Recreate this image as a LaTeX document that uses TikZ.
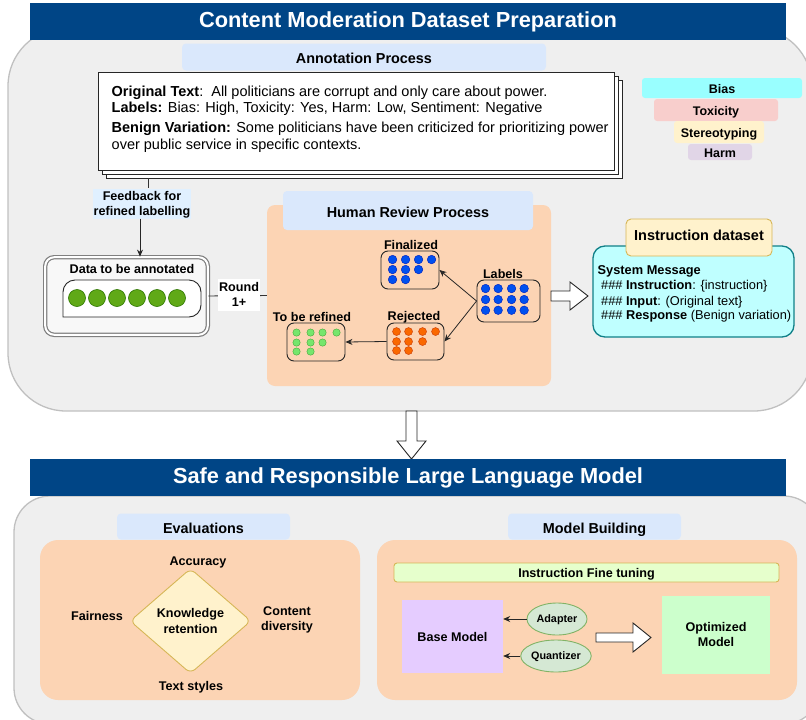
\documentclass[tikz,border=0pt]{standalone}
\usepackage{fontspec}
\setmainfont{Liberation Sans}
\usetikzlibrary{shapes.geometric,arrows.meta,calc}
\definecolor{navy}{RGB}{0,69,134}
\definecolor{panel}{RGB}{239,239,239}
\definecolor{panelline}{RGB}{192,192,192}
\definecolor{lblue}{RGB}{218,232,252}
\definecolor{fblue}{RGB}{224,240,255}
\definecolor{peach}{RGB}{252,212,180}
\definecolor{cyanfill}{RGB}{191,255,255}
\definecolor{tealc}{RGB}{16,128,136}
\definecolor{yfill}{RGB}{255,242,204}
\definecolor{yline}{RGB}{214,182,86}
\definecolor{biasc}{RGB}{153,255,255}
\definecolor{toxc}{RGB}{248,206,204}
\definecolor{harmc}{RGB}{225,213,231}
\definecolor{gfill}{RGB}{96,169,23}
\definecolor{gline}{RGB}{45,118,0}
\definecolor{bfill}{RGB}{0,80,239}
\definecolor{bline}{RGB}{0,29,188}
\definecolor{ofill}{RGB}{250,104,0}
\definecolor{oline}{RGB}{199,53,0}
\definecolor{lgfill}{RGB}{118,230,108}
\definecolor{lgline}{RGB}{72,170,62}
\definecolor{iftfill}{RGB}{230,255,204}
\definecolor{basec}{RGB}{229,204,255}
\definecolor{optc}{RGB}{204,255,204}
\definecolor{ellfill}{RGB}{213,232,212}
\definecolor{ellline}{RGB}{130,179,102}
\newcommand{\dotgrid}[4]{%
  \foreach \dx/\dy in {#4} \draw[#2] ($(#1.north west)+(\dx,\dy)$) circle (#3);}
\begin{document}
\begin{tikzpicture}[x=1pt,y=-1pt,
  lab/.style={font=\bfseries\fontsize{12.6}{15.5}\selectfont, align=center, inner sep=0pt, text depth=0pt},
  sect/.style={fill=lblue, rounded corners=4, inner sep=0pt, text height=13pt, text depth=0pt, font=\bfseries\fontsize{14.4}{16}\selectfont},
  banner/.style={fill=navy, inner sep=0pt, text=white, minimum width=756, minimum height=37, font=\bfseries\fontsize{21.8}{24}\selectfont},
  doctext/.style={anchor=base west, inner sep=0pt, font=\fontsize{14.5}{17}\selectfont},
  instext/.style={anchor=base west, inner sep=0pt, font=\fontsize{12.8}{15}\selectfont},
  pbox/.style={rounded corners=#1, inner sep=0pt},
  minibox/.style={draw=black!85, line width=0.9, rounded corners=7, inner sep=0pt},
  arr/.style={draw=black!85, line width=0.8, -{Stealth[length=7pt,width=6pt]}},
  hollow/.style={draw=black!85, fill=white, line width=0.9},
  bdot/.style={fill=bfill, draw=bline, line width=0.4},
  odot/.style={fill=ofill, draw=oline, line width=0.4},
  gdot/.style={fill=lgfill, draw=lgline, line width=0.4},
  bigdot/.style={fill=gfill, draw=gline, line width=0.6},
  pyr/.style={rounded corners=3, inner sep=0pt, text height=10pt, text depth=0pt, font=\bfseries\fontsize{12.5}{14}\selectfont},
  ell/.style={ellipse, draw=ellline, fill=ellfill, line width=0.9, inner sep=0pt, minimum width=60, minimum height=32, text depth=0pt, font=\bfseries\fontsize{10.8}{12}\selectfont}
]
\path[use as bounding box] (0,0) rectangle (806,720);
\clip (0,0) rectangle (806,720);

% ---------- top panel ----------
\draw[draw=panelline, fill=panel, line width=1.3, rounded corners=58] (8,28) rectangle (812,411);
\node[banner] (ban1) at (408,21.5) {Content Moderation Dataset Preparation};
\node[sect, minimum width=364, minimum height=27] (annot) at (364,57) {Annotation Process};

% document stack
\draw[fill=white, draw=black!85, line width=0.9] (106,80) rectangle (622,178);
\draw[fill=white, draw=black!85, line width=0.9] (102,76) rectangle (618,174);
\node[draw=black!85, fill=white, line width=0.9, minimum width=516, minimum height=98, inner sep=0pt] (doc) at (356,121) {};
\node[doctext] (l1) at (111.5,96.5) {\textbf{Original Text}:\ \ All politicians are corrupt and only care about power.};
\node[doctext] (l2) at (111.5,112.7) {\textbf{Labels:} Bias: High, Toxicity: Yes, Harm: Low, Sentiment: Negative};
\node[doctext] (l3) at (111.5,132.7) {\textbf{Benign Variation:} Some politicians have been criticized for prioritizing power};
\node[doctext] (l4) at (111.5,149.3) {over public service in specific contexts.};

% pyramid
\node[pyr, fill=biasc, minimum width=160, minimum height=20] (bias) at (722,88) {Bias};
\node[pyr, fill=toxc, minimum width=124, minimum height=22] (tox) at (716,110) {Toxicity};
\node[pyr, fill=yfill, minimum width=90, minimum height=22] (ster) at (719,132) {Stereotyping};
\node[pyr, fill=harmc, minimum width=64, minimum height=16] (harm) at (720,152) {Harm};

% feedback
\node[lab, fill=fblue, minimum width=98, minimum height=30] (fb) at (142,203.5) {Feedback for\\refined labelling};
\coordinate (fbtop) at (148,178);
\coordinate (fbx) at (140,0);
\draw[draw=black!80, line width=0.9] (fbtop) -- (fbtop |- fb.north);

% data to be annotated
\node[draw=gray, double=white, double distance=2pt, line width=1.2, fill={rgb,255:red,248;green,248;blue,248}, rounded corners=9, minimum width=162.6, minimum height=77.6, inner sep=0pt] (data) at (126.5,296) {};
\draw[arr] (fb.south -| fbx) -- (data.north -| fbx);
\node[lab] (datat) at (132,269) {Data to be annotated};
\draw[fill=white, draw=black!85, line width=0.9] (63,300) [rounded corners=12] -- (63,280) -- (201,280) -- (201,317) -- (100,317) [sharp corners] -- (63,317) -- cycle;
\foreach \cx in {77,97,117,137,157,177} \draw[bigdot] (\cx,298) circle (8.5);

% human review
\node[pbox=8, fill=peach, minimum width=284, minimum height=181] (review) at (409,295.5) {};
\node[sect, minimum width=250, minimum height=39] (revlab) at (408,210.5) {Human Review Process};
\draw[draw=black!80, line width=0.9] (data.east) -- (review.west);
\node[lab, fill=white, minimum width=42, minimum height=32] (round) at (239,294.5) {Round\\1+};

\node[minibox, minimum width=58, minimum height=38] (fin) at (410,270) {};
\node[lab] (fint) at (411,244.5) {Finalized};
\dotgrid{fin}{bdot}{4.3}{12/9,25/9,38/9,51/9,12/19,25/19,38/19,12/29,25/29}
\node[minibox, minimum width=63, minimum height=42] (labels) at (508.5,301) {};
\node[lab] (labt) at (503,273.5) {Labels};
\dotgrid{labels}{bdot}{4.3}{9/9,21.6/9,35/9,47.6/9,9/20,21.6/20,35/20,47.6/20,9/30.7,21.6/30.7,35/30.7,47.6/30.7}
\node[minibox, minimum width=57, minimum height=37] (rej) at (415.5,341.5) {};
\node[lab] (rejt) at (414,316) {Rejected};
\dotgrid{rej}{odot}{4}{10/9,22/9,36/9,49/9,10/19,22/19,36/19,10/28,22/28}
\node[minibox, minimum width=58, minimum height=38] (ref) at (316,342) {};
\node[lab] (reft) at (312,317) {To be refined};
\dotgrid{ref}{gdot}{3.7}{10/10,24/10,36/10,50/10,10/20,24/20,36/20,10/29,24/29}
\draw[arr] (labels.west) -- (fin.east);
\draw[arr] (labels.west) -- (rej.east);
\draw[arr] (rej.west) -- (ref.east);

% instruction dataset
\node[draw=tealc, fill=cyanfill, line width=1.3, rounded corners=12, inner sep=0pt, minimum width=201, minimum height=91] (ins) at (693.5,291.5) {};
\node[draw=yline, fill=yfill, line width=0.9, rounded corners=5, inner sep=0pt, minimum width=146, minimum height=37, text height=10.4pt, text depth=5pt, font=\bfseries\fontsize{14.5}{16}\selectfont] (inshead) at (699,237.5) {Instruction dataset};
\node[instext, font=\bfseries\fontsize{12.8}{15}\selectfont] (sm) at (597.5,274) {System Message};
\node[instext] (i1) at (601,289.3) {\#\#\# \textbf{Instruction}: \{instruction\}};
\node[instext] (i2) at (601,305) {\#\#\# \textbf{Input}: (Original text\}};
\node[instext] (i3) at (601,319.3) {\#\#\# \textbf{Response} (Benign variation)};
\draw[hollow] (551,291) -- (570,291) -- (570,282) -- (588,296) -- (570,310) -- (570,301) -- (551,301) -- cycle;

% down arrow
\draw[hollow] (406,411) -- (417,411) -- (417,441) -- (426,441) -- (411.5,459) -- (397,441) -- (406,441) -- cycle;

% ---------- bottom panel ----------
\draw[draw=panelline, fill=panel, line width=1.3, rounded corners=36] (14,496) rectangle (820,724);
\node[banner] (ban2) at (408,477.5) {Safe and Responsible Large Language Model};

% evaluations
\node[sect, minimum width=173, minimum height=26] (evl) at (203.5,526.5) {Evaluations};
\node[pbox=18, fill=peach, minimum width=320, minimum height=160] (evbox) at (200,620) {};
\node[diamond, draw=yline, fill=yfill, line width=0.9, rounded corners=6, minimum width=121, minimum height=105, inner sep=0pt, lab] (kr) at (190.5,621) {Knowledge\\retention};
\node[lab] (acc) at (198,561) {Accuracy};
\node[lab] (fair) at (97,616) {Fairness};
\node[lab] (cdiv) at (287,618.5) {Content\\diversity};
\node[lab] (tsty) at (191,686) {Text styles};

% model building
\node[sect, minimum width=173, minimum height=26] (mbl) at (594.5,526.5) {Model Building};
\node[pbox=18, fill=peach, minimum width=420, minimum height=160] (mbbox) at (587,620) {};
\node[draw=yline, fill=iftfill, line width=0.9, rounded corners=3, inner sep=0pt, minimum width=385, minimum height=19, lab] (ift) at (586.5,572.5) {Instruction Fine tuning};
\node[fill=basec, inner sep=0pt, minimum width=101, minimum height=73, lab] (base) at (452.5,636.5) {Base Model};
\node[ell] (ad) at (557,619) {Adapter};
\node[ell] (qu) at (556,656) {Quantizer};
\node[fill=optc, inner sep=0pt, minimum width=108, minimum height=78, lab] (opt) at (716,634.5) {Optimized\\Model};
\draw[arr] (ad.west) -- (ad.west -| base.east);
\draw[arr] (qu.west) -- (qu.west -| base.east);
\draw[hollow] (596,633) -- (633,633) -- (633,623) -- (651,637.5) -- (633,652) -- (633,642) -- (596,642) -- cycle;
\end{tikzpicture}
\end{document}
